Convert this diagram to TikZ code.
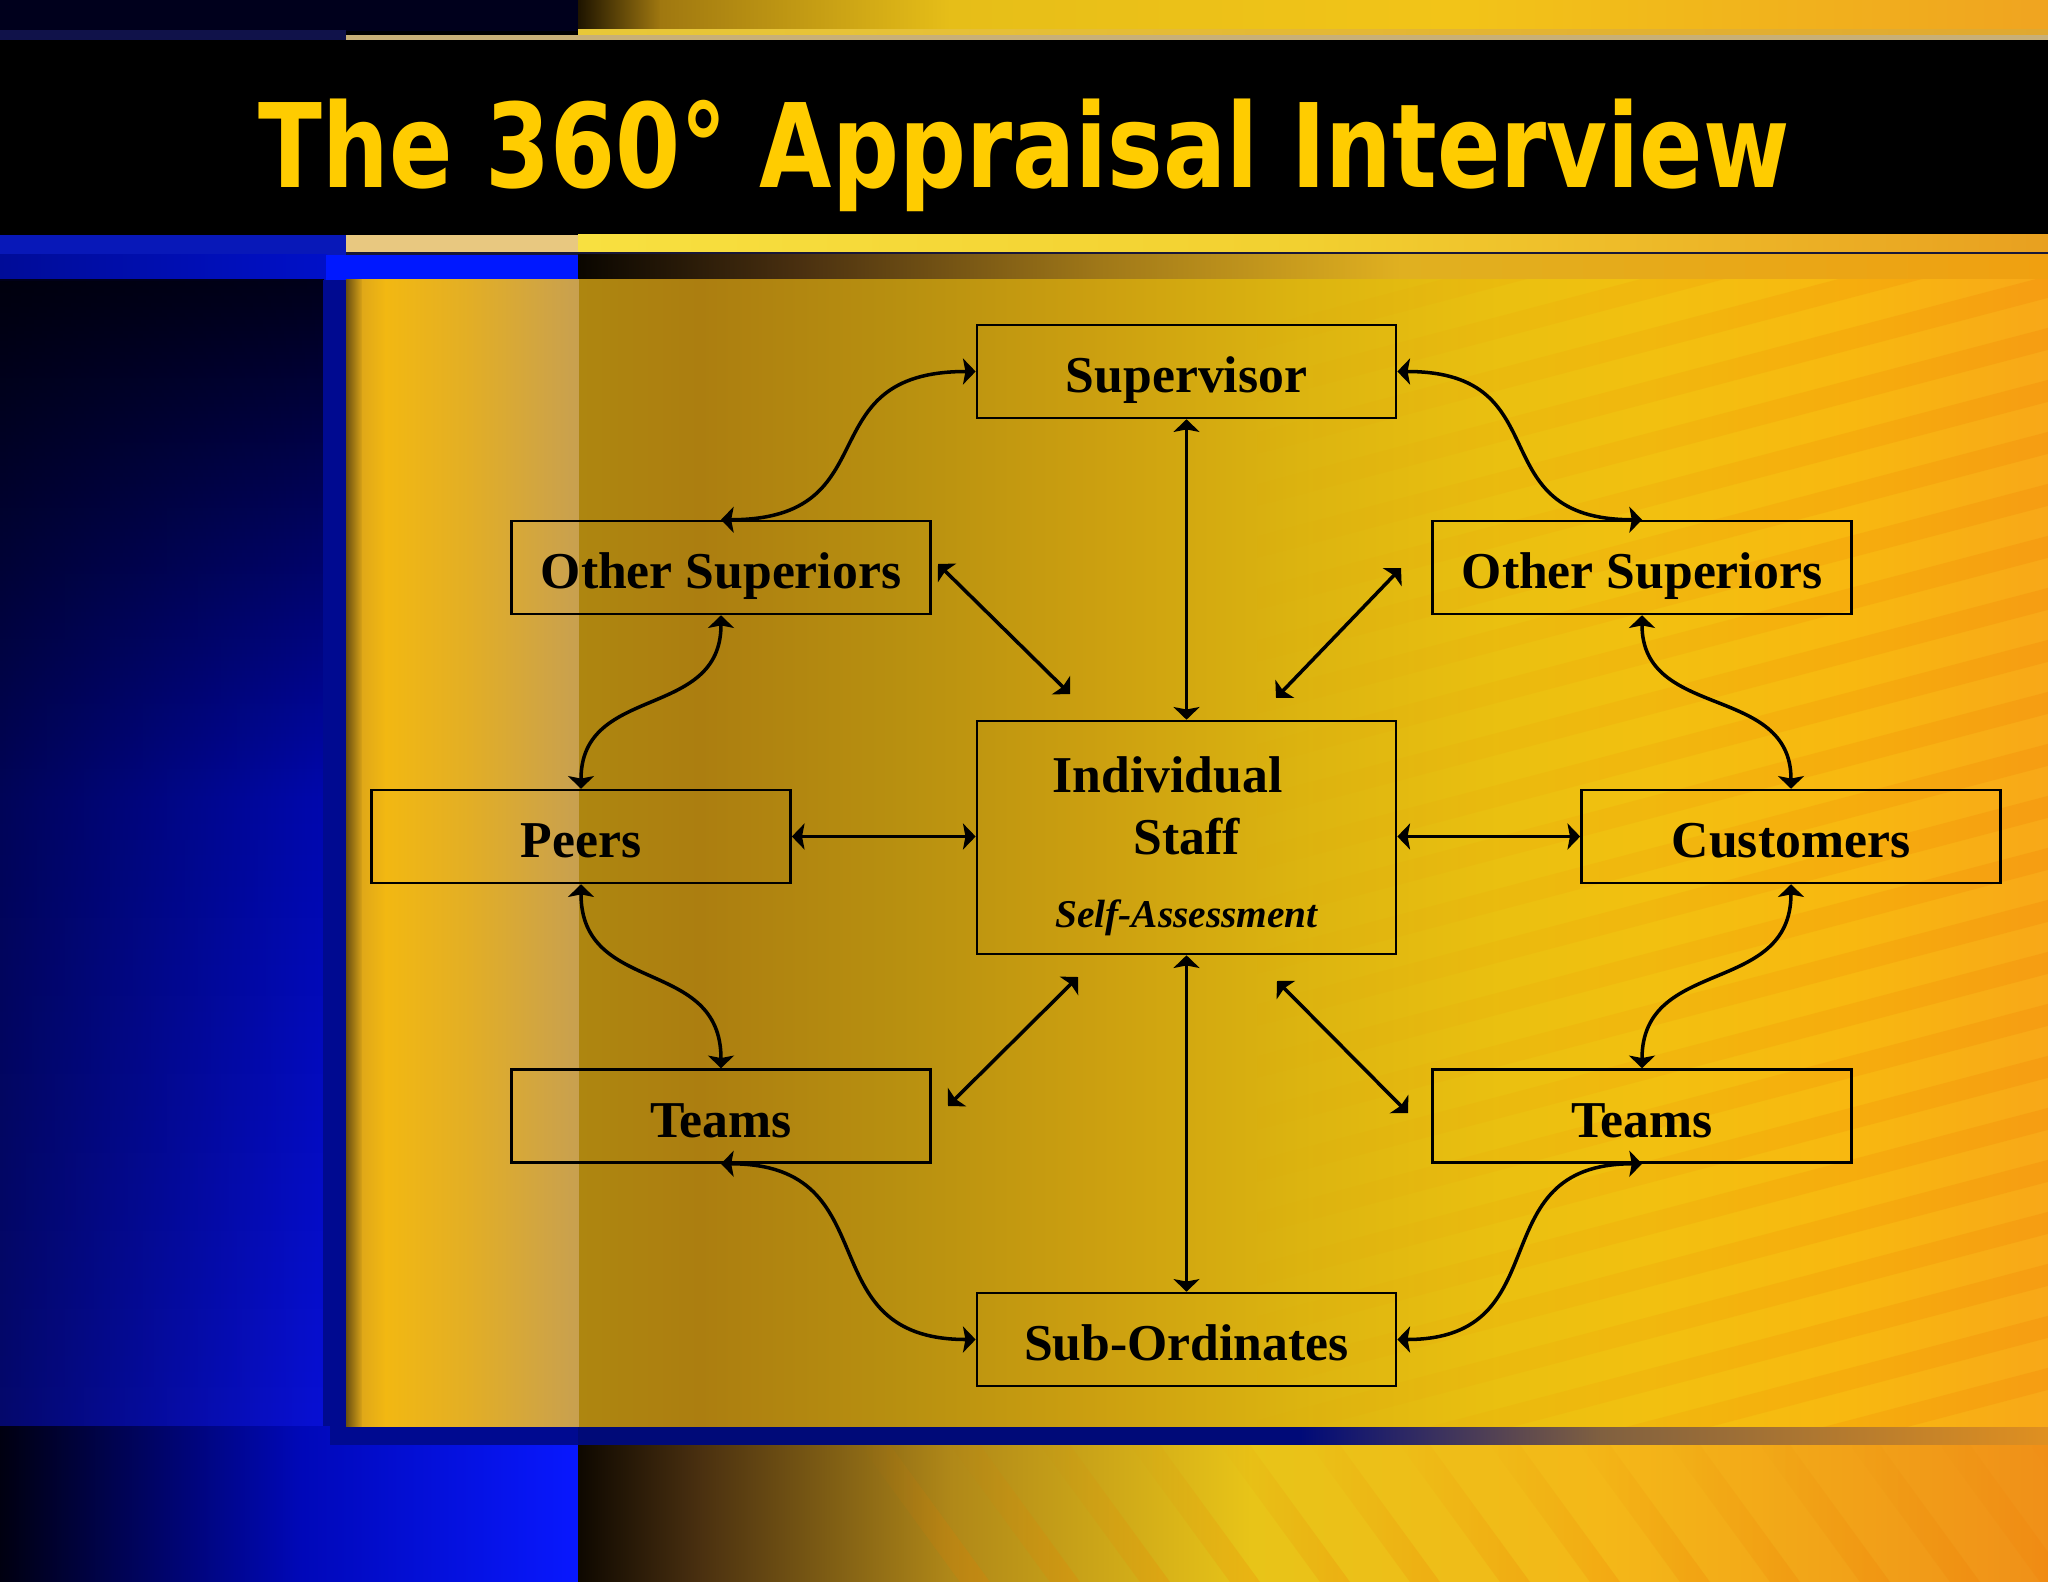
\documentclass[tikz,border=0pt]{standalone}
\usepackage{fontspec}
\usepackage{graphicx}
\setmainfont{Liberation Serif}
\newfontfamily\titlefont{DejaVu Sans}
\usetikzlibrary{arrows.meta,fadings}

\definecolor{titley}{HTML}{FFCC00}
\definecolor{navyT}{HTML}{00001C}
\definecolor{tA}{HTML}{1E1400}
\definecolor{tB}{HTML}{A07810}
\definecolor{tC}{HTML}{E6BE18}
\definecolor{tD}{HTML}{F2C418}
\definecolor{tE}{HTML}{F0A420}
\definecolor{lineBlue}{HTML}{10124A}
\definecolor{gold1}{HTML}{E8C838}
\definecolor{gold2}{HTML}{E0A830}
\definecolor{paleLine}{HTML}{C8B078}
\definecolor{blueS}{HTML}{0818B8}
\definecolor{tanS}{HTML}{E8C880}
\definecolor{yS1}{HTML}{F8E040}
\definecolor{yS2}{HTML}{F2D030}
\definecolor{yS3}{HTML}{E8A020}
\definecolor{darkLine}{HTML}{181838}
\definecolor{bA}{HTML}{000C98}
\definecolor{bB}{HTML}{0010C8}
\definecolor{bC}{HTML}{0018FF}
\definecolor{sh1}{HTML}{0A0600}
\definecolor{sh2}{HTML}{4A3010}
\definecolor{sh3}{HTML}{A07818}
\definecolor{sh4}{HTML}{E0B020}
\definecolor{sh5}{HTML}{F0A010}
\definecolor{L1}{HTML}{00001A}
\definecolor{L2}{HTML}{0008B0}
\definecolor{L3}{HTML}{0810D8}
\definecolor{S1}{HTML}{000A90}
\definecolor{pS}{HTML}{6A5010}
\definecolor{pA}{HTML}{E0A818}
\definecolor{pB}{HTML}{F2B812}
\definecolor{pC}{HTML}{E2AE26}
\definecolor{pD}{HTML}{C8A050}
\definecolor{pE}{HTML}{AE8610}
\definecolor{pF}{HTML}{AC7E10}
\definecolor{pG}{HTML}{B89010}
\definecolor{pH}{HTML}{CCA010}
\definecolor{pI}{HTML}{DCB410}
\definecolor{pJ}{HTML}{EAC010}
\definecolor{pK}{HTML}{F2C010}
\definecolor{pL}{HTML}{F8B810}
\definecolor{pM}{HTML}{F8A818}
\definecolor{stripeO}{HTML}{F07800}
\definecolor{bbA}{HTML}{000010}
\definecolor{bbB}{HTML}{0008B8}
\definecolor{bbC}{HTML}{0818FF}
\definecolor{bnavy}{HTML}{000A78}
\definecolor{bn2}{HTML}{806040}
\definecolor{bn3}{HTML}{E09020}
\definecolor{q1}{HTML}{0E0800}
\definecolor{q2}{HTML}{4A3010}
\definecolor{q3}{HTML}{B08818}
\definecolor{q4}{HTML}{E8C418}
\definecolor{q5}{HTML}{F4B818}
\definecolor{q6}{HTML}{F09018}

\newcommand\hshade[6]{\shade[left color=#5,right color=#6] (#1,#3) rectangle ({#2+1},#4);}

\tikzset{
  box/.style={draw=black, line width=0.7pt, minimum width=4.19cm, minimum height=0.93cm,
    inner sep=0pt, font=\fontsize{14.7}{17.4}\selectfont\bfseries, text height=12.2pt, text depth=0pt},
  bigbox/.style={draw=black, line width=0.7pt, minimum width=4.19cm, minimum height=2.33cm, inner sep=0pt},
  boxtext/.style={anchor=base, inner sep=0pt, font=\fontsize{14.7}{17.4}\selectfont\bfseries},
  arr/.style={line width=1pt, {Stealth[length=3.6pt,width=7.4pt,inset=0.7pt]}-{Stealth[length=3.6pt,width=7.4pt,inset=0.7pt]}},
  streak/.style={stripeO, fill opacity=0.22, path fading=west}
}

\begin{document}
\begin{tikzpicture}[x=0.01cm,y=-0.01cm]
\useasboundingbox (0,0) rectangle (2048,1582);
\fill[black] (0,0) rectangle (2048,1582);

% ---- top strip
\fill[navyT] (0,0) rectangle (579,31);
\hshade{578}{660}{0}{31}{tA}{tB}
\hshade{660}{950}{0}{31}{tB}{tC}
\hshade{950}{1450}{0}{31}{tC}{tD}
\hshade{1450}{2048}{0}{31}{tD}{tE}
\fill[lineBlue] (0,30) rectangle (346,40);
\hshade{578}{2048}{30}{35}{gold1}{gold2}
\fill[paleLine] (346,35) rectangle (2048,40);

% ---- black title band
\fill[black] (0,40) rectangle (2048,235);

% ---- strip below the band
\fill[blueS] (0,235) rectangle (347,255);
\fill[tanS] (346,235) rectangle (579,253);
\hshade{578}{1300}{235}{253}{yS1}{yS2}
\hshade{1300}{2048}{235}{253}{yS2}{yS3}
\fill[darkLine] (346,252) rectangle (2048,256);
\hshade{0}{326}{255}{280}{bA}{bB}
\fill[bC] (326,255) rectangle (579,280);
\hshade{578}{800}{255}{280}{sh1}{sh2}
\hshade{800}{1100}{255}{280}{sh2}{sh3}
\hshade{1100}{1400}{255}{280}{sh3}{sh4}
\hshade{1400}{2048}{255}{280}{sh4}{sh5}

% ---- left column
\shade[top color=L1, bottom color=L2] (0,280) rectangle (324,801);
\shade[top color=L2, bottom color=L3] (0,800) rectangle (324,1426);
\fill[black, path fading=east, fill opacity=0.5] (0,280) rectangle (330,1426);
\fill[S1] (323,280) rectangle (347,1426);

% ---- bottom area
\hshade{0}{300}{1426}{1582}{bbA}{bbB}
\hshade{300}{578}{1426}{1582}{bbB}{bbC}
\fill[S1] (330,1426) rectangle (579,1445);
\hshade{578}{1300}{1426}{1445}{bnavy}{bnavy}
\hshade{1300}{1600}{1426}{1445}{bnavy}{bn2}
\hshade{1600}{2048}{1426}{1445}{bn2}{bn3}
\hshade{578}{700}{1445}{1582}{q1}{q2}
\hshade{700}{950}{1445}{1582}{q2}{q3}
\hshade{950}{1250}{1445}{1582}{q3}{q4}
\hshade{1250}{1600}{1445}{1582}{q4}{q5}
\hshade{1600}{2048}{1445}{1582}{q5}{q6}
\begin{scope}
  \clip (578,1445) rectangle (2048,1582);
  \foreach \k in {0,...,13} {
    \fill[streak] ({860+\k*90},1445) -- ({890+\k*90},1445) -- ({990+\k*90},1582) -- ({960+\k*90},1582) -- cycle;
  }
\end{scope}

% ---- main panel
\hshade{346}{362}{280}{1426}{pS}{pA}
\hshade{362}{385}{280}{1426}{pA}{pB}
\hshade{385}{470}{280}{1426}{pB}{pC}
\hshade{470}{578}{280}{1426}{pC}{pD}
\hshade{579}{700}{280}{1426}{pE}{pF}
\hshade{700}{900}{280}{1426}{pF}{pG}
\hshade{900}{1100}{280}{1426}{pG}{pH}
\hshade{1100}{1300}{280}{1426}{pH}{pI}
\hshade{1300}{1500}{280}{1426}{pI}{pJ}
\hshade{1500}{1650}{280}{1426}{pJ}{pK}
\hshade{1650}{1850}{280}{1426}{pK}{pL}
\hshade{1850}{2047}{280}{1426}{pL}{pM}
\begin{scope}
  \clip (1250,280) rectangle (2048,1426);
  \foreach \k in {0,...,24} {
    \fill[streak] (1250,{330+\k*52}) -- (2048,{330+\k*52-210}) -- (2048,{352+\k*52-210}) -- (1250,{352+\k*52}) -- cycle;
  }
\end{scope}

% ---- title
\node[anchor=base west, text=titley, inner sep=0pt] (title) at (258,188)
  {\resizebox{15.30cm}{0.885cm}{\titlefont\bfseries The 360° Appraisal Interview}};

% ---- nodes
\node[box] (sup)    at (1186.5,371.5) {Supervisor};
\node[box] (osl)    at (721,567.5)    {Other Superiors};
\node[box] (osr)    at (1642,567.5)   {Other Superiors};
\node[box] (peers)  at (581,836.5)    {Peers};
\node[bigbox] (staff) at (1186.5,837.5) {};
\node[box] (cust)   at (1791,836.5)   {Customers};
\node[box] (teamsl) at (721,1116)     {Teams};
\node[box] (teamsr) at (1642,1116)    {Teams};
\node[box] (sub)    at (1186.5,1339.5) {Sub-Ordinates};

\node[boxtext] (indiv)    at (1167.5,792) {Individual};
\node[boxtext] (stafftxt) at (1186.5,854) {Staff};
\node[anchor=base, inner sep=0pt, font=\fontsize{11.2}{13}\selectfont\bfseries\itshape] (selfa) at (1186.5,927) {Self-Assessment};

% ---- free ends of the diagonal connectors
\coordinate (d1a) at (938,564);
\coordinate (d1b) at (1070,694);
\coordinate (d2a) at (1401,568);
\coordinate (d2b) at (1276,698);
\coordinate (d3a) at (948,1106);
\coordinate (d3b) at (1078,977);
\coordinate (d4a) at (1277,981);
\coordinate (d4b) at (1408,1113);

% ---- straight connectors
\draw[arr] (sup.south) -- (staff.north);
\draw[arr] (staff.south) -- (sub.north);
\draw[arr] (peers.east) -- (peers.east -| staff.west);
\draw[arr] (cust.west -| staff.east) -- (cust.west);
\draw[arr] (d1a) -- (d1b);
\draw[arr] (d2a) -- (d2b);
\draw[arr] (d3a) -- (d3b);
\draw[arr] (d4a) -- (d4b);

% ---- curved connectors
\draw[arr] (osl.north) .. controls +(171,0) and +(-171,0) .. (sup.west);
\draw[arr] (osr.north) .. controls +(-165,0) and +(165,0) .. (sup.east);
\draw[arr] (osl.south) .. controls +(0,105) and +(0,-105) .. (peers.north);
\draw[arr] (osr.south) .. controls +(0,105) and +(0,-105) .. (cust.north);
\draw[arr] (peers.south) .. controls +(0,112) and +(0,-112) .. (teamsl.north);
\draw[arr] (cust.south) .. controls +(0,112) and +(0,-112) .. (teamsr.north);
\draw[arr] (teamsl.south) .. controls +(171,0) and +(-171,0) .. (sub.west);
\draw[arr] (teamsr.south) .. controls +(-165,0) and +(165,0) .. (sub.east);
\end{tikzpicture}
\end{document}
